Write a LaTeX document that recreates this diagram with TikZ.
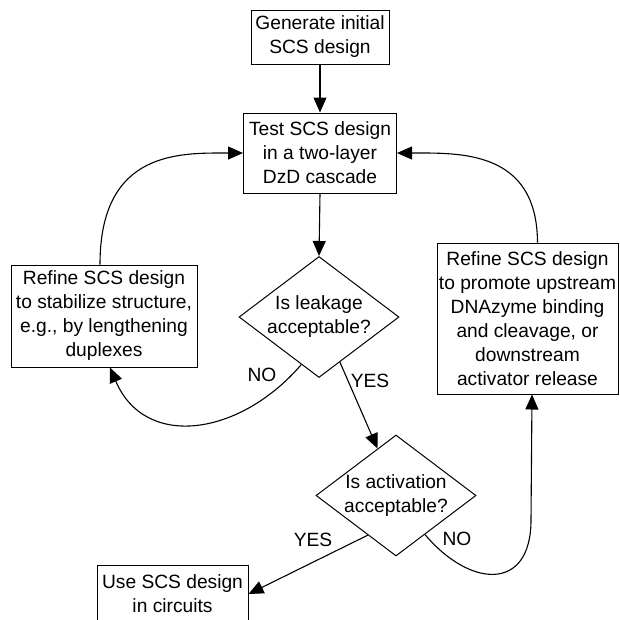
\documentclass[tikz,border=0pt]{standalone}
\usepackage{fontspec}
\setmainfont{Liberation Sans}
\usetikzlibrary{shapes.geometric,arrows.meta,calc}
\begin{document}
\begin{tikzpicture}[x=1pt,y=-1pt,
  every node/.style={font=\fontsize{19.2}{24}\selectfont},
  box/.style={draw,line width=1pt,align=center,inner sep=1pt},
  dia/.style={draw,line width=1pt,diamond,aspect=1.333,inner sep=0pt,minimum width=160pt,minimum height=121pt,align=center},
  lab/.style={inner sep=0pt},
  arr/.style={line width=1.1pt,-{Triangle[length=15pt,width=13pt]}}]
\useasboundingbox (0,0) rectangle (620,619);
\node[box,minimum width=138pt,minimum height=54pt] (b1) at (320,37) {Generate initial\\SCS design};
\node[box,minimum width=153pt,minimum height=80pt] (b2) at (320,153) {Test SCS design\\in a two-layer\\DzD cascade};
\node[box,minimum width=186pt,minimum height=102pt] (lb) at (104,316) {Refine SCS design\\to stabilize structure,\\e.g., by lengthening\\duplexes};
\node[box,minimum width=181pt,minimum height=151pt] (rb) at (527.5,318.5) {Refine SCS design\\to promote upstream\\DNAzyme binding\\and cleavage, or\\downstream\\activator release};
\node[dia] (d1) at (319,317) {Is leakage\\acceptable?};
\node[dia] (d2) at (396,495.5) {Is activation\\acceptable?};
\node[box,minimum width=151pt,minimum height=58pt] (bb) at (172.5,594) {Use SCS design\\in circuits};
\node[lab] (no1) at (262,375) {NO};
\node[lab] (yes1) at (370,381) {YES};
\node[lab] (yes2) at (313,540) {YES};
\node[lab] (no2) at (457,539) {NO};
\draw[arr] (b1.south) -- (b2.north);
\draw[arr] (b2.south) -- (d1.north);
\draw[arr] ([xshift=-4pt]lb.north) .. controls (100,150) and (180,153) .. (b2.west);
\draw[arr] ([xshift=10pt]rb.north) .. controls (537,150) and (460,153) .. (b2.east);
\draw[arr] ($(d1.south)!0.22!(d1.west)$) .. controls (240,436) and (145,450) .. ([xshift=6pt]lb.south);
\draw[arr] ($(d1.south)!0.26!(d1.east)$) -- ($(d2.north)!0.23!(d2.west)$);
\draw[arr] ($(d2.south)!0.35!(d2.west)$) -- (bb.east);
\draw[arr] ($(d2.south)!0.36!(d2.east)$) .. controls (470,588) and (531,592) .. (531,520) -- ([xshift=4.5pt]rb.south);
\end{tikzpicture}
\end{document}
